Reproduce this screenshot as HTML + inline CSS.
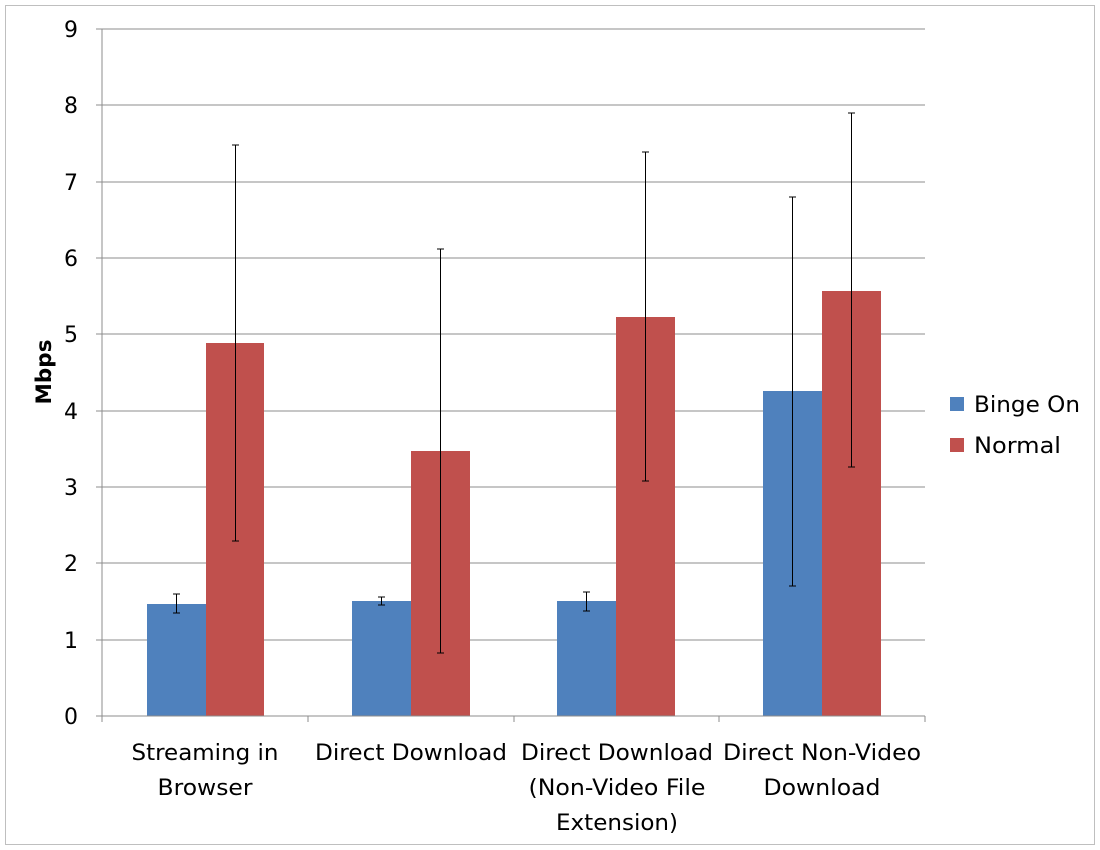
<!DOCTYPE html>
<html><head><style>body{margin:0;background:#fff}svg{display:block}</style></head><body>
<svg width="1100" height="850" xmlns="http://www.w3.org/2000/svg" font-family="DejaVu Sans, Liberation Sans, sans-serif">
<rect x="5.5" y="5.5" width="1089" height="839" fill="#fff" stroke="#bfbfbf"/>
<g stroke="#8c8c8c" stroke-width="1">
<line x1="102" y1="640" x2="925" y2="640"/><line x1="102" y1="563" x2="925" y2="563"/>
<line x1="102" y1="487" x2="925" y2="487"/><line x1="102" y1="411" x2="925" y2="411"/>
<line x1="102" y1="334" x2="925" y2="334"/><line x1="102" y1="258" x2="925" y2="258"/>
<line x1="102" y1="182" x2="925" y2="182"/><line x1="102" y1="105" x2="925" y2="105"/>
<line x1="102" y1="29" x2="925" y2="29"/>
</g>
<g fill="#4F81BD">
<rect x="147" y="604" width="59" height="112"/><rect x="352" y="601" width="59" height="115"/>
<rect x="557" y="601" width="59" height="115"/><rect x="763" y="391" width="59" height="325"/>
</g>
<g fill="#C0504D">
<rect x="206" y="343" width="58" height="373"/><rect x="411" y="451" width="59" height="265"/>
<rect x="616" y="317" width="59" height="399"/><rect x="822" y="291" width="59" height="425"/>
</g>
<g stroke="#8c8c8c">
<line x1="102" y1="716" x2="925" y2="716"/><line x1="102" y1="29" x2="102" y2="716"/>
<line x1="96" y1="716" x2="102" y2="716"/><line x1="96" y1="640" x2="102" y2="640"/><line x1="96" y1="563" x2="102" y2="563"/>
<line x1="96" y1="487" x2="102" y2="487"/><line x1="96" y1="411" x2="102" y2="411"/><line x1="96" y1="334" x2="102" y2="334"/>
<line x1="96" y1="258" x2="102" y2="258"/><line x1="96" y1="182" x2="102" y2="182"/><line x1="96" y1="105" x2="102" y2="105"/>
<line x1="96" y1="29" x2="102" y2="29"/>
<line x1="102" y1="716" x2="102" y2="722"/><line x1="308" y1="716" x2="308" y2="722"/>
<line x1="514" y1="716" x2="514" y2="722"/><line x1="719" y1="716" x2="719" y2="722"/><line x1="925" y1="716" x2="925" y2="722"/>
</g>
<g stroke="#000" stroke-width="1">
<path d="M176.5 613V594M173 613h7M173 594h7"/>
<path d="M235.5 541V145M232 541h7M232 145h7"/>
<path d="M381.5 605V597M378 605h7M378 597h7"/>
<path d="M440.5 653V249M437 653h7M437 249h7"/>
<path d="M586.5 611V592M583 611h7M583 592h7"/>
<path d="M645.5 481V152M642 481h7M642 152h7"/>
<path d="M792.5 586V197M789 586h7M789 197h7"/>
<path d="M851.5 467V113M848 467h7M848 113h7"/>
</g>
<g font-size="22" fill="#000" text-anchor="end">
<text x="78" y="724">0</text><text x="78" y="648">1</text><text x="78" y="571">2</text>
<text x="78" y="495">3</text><text x="78" y="419">4</text><text x="78" y="342">5</text>
<text x="78" y="266">6</text><text x="78" y="190">7</text><text x="78" y="113">8</text><text x="78" y="37">9</text>
</g>
<text transform="translate(51,372) rotate(-90)" font-size="21" font-weight="bold" text-anchor="middle" textLength="65" lengthAdjust="spacingAndGlyphs">Mbps</text>
<g font-size="22" text-anchor="middle" lengthAdjust="spacingAndGlyphs">
<text x="205" y="760" textLength="147" lengthAdjust="spacingAndGlyphs">Streaming in</text>
<text x="205" y="795" textLength="95" lengthAdjust="spacingAndGlyphs">Browser</text>
<text x="411" y="760" textLength="192" lengthAdjust="spacingAndGlyphs">Direct Download</text>
<text x="617" y="760" textLength="192" lengthAdjust="spacingAndGlyphs">Direct Download</text>
<text x="617" y="795" textLength="177" lengthAdjust="spacingAndGlyphs">(Non-Video File</text>
<text x="617" y="830" textLength="122" lengthAdjust="spacingAndGlyphs">Extension)</text>
<text x="822" y="760" textLength="198" lengthAdjust="spacingAndGlyphs">Direct Non-Video</text>
<text x="822" y="795" textLength="117" lengthAdjust="spacingAndGlyphs">Download</text>
</g>
<rect x="950" y="397" width="14" height="14" fill="#4F81BD"/>
<text x="974" y="412" font-size="22" textLength="106" lengthAdjust="spacingAndGlyphs">Binge On</text>
<rect x="950" y="438" width="14" height="14" fill="#C0504D"/>
<text x="974" y="453" font-size="22" textLength="87" lengthAdjust="spacingAndGlyphs">Normal</text>
</svg>
</body></html>
